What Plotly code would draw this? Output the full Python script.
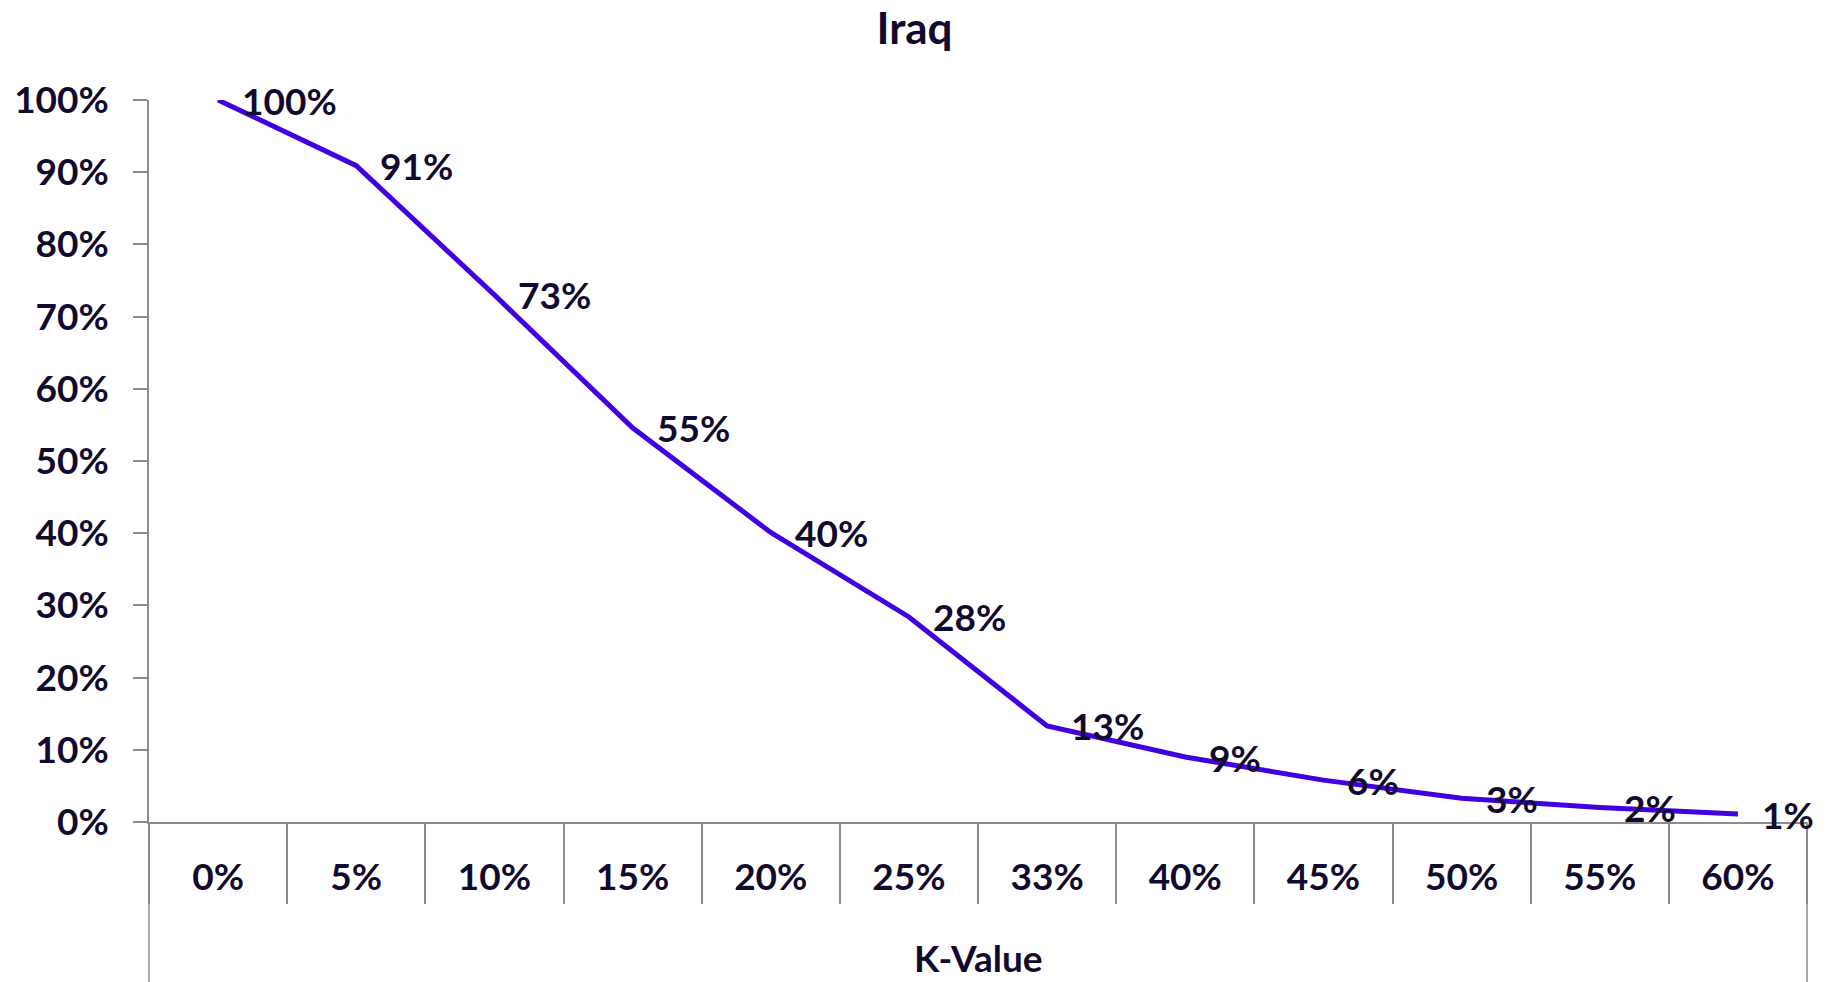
import plotly.graph_objects as go

# K-value categories and the share remaining at each one
k_values = ["0%", "5%", "10%", "15%", "20%", "25%", "33%", "40%", "45%", "50%", "55%", "60%"]
share = [1.000, 0.909, 0.730, 0.546, 0.401, 0.284, 0.133, 0.090, 0.058, 0.033, 0.020, 0.011]
y_ticks = [0.0, 0.1, 0.2, 0.3, 0.4, 0.5, 0.6, 0.7, 0.8, 0.9, 1.0]

W, H = 1829, 982
M_L, M_R, M_T, M_B = 149, 22, 100, 160
plot_h = H - M_T - M_B

FONT = "Lato"
TEXT = "#110a2e"
AXIS = "#8c8c8c"
LINE = "#4100e0"
FS = 37

fig = go.Figure()
fig.add_trace(go.Scatter(
    x=k_values, y=share, mode="lines",
    line=dict(color=LINE, width=5),
    hoverinfo="skip", showlegend=False,
))

# value labels to the right of each point
for k, v in zip(k_values, share):
    fig.add_annotation(
        x=k, y=v, text=f"<b>{v:.0%}</b>", showarrow=False,
        xanchor="left", yanchor="middle", xshift=22,
        font=dict(family=FONT, size=FS, color=TEXT),
    )

# axis title of the category axis
fig.add_annotation(
    x=0.5, xref="paper", y=-(957 - 822) / plot_h, yref="paper",
    text="<b>K-Value</b>", showarrow=False, xanchor="center", yanchor="middle",
    font=dict(family=FONT, size=FS, color=TEXT),
)

# outer frame lines of the category axis
for xp in (0, 1):
    fig.add_shape(type="line", xref="paper", yref="paper",
                  x0=xp, x1=xp, y0=0, y1=-M_B / plot_h,
                  line=dict(color=AXIS, width=1.5), layer="below")

fig.update_layout(
    width=W, height=H,
    margin=dict(l=M_L, r=M_R, t=M_T, b=M_B, pad=0),
    paper_bgcolor="white", plot_bgcolor="white",
    font=dict(family=FONT, size=FS, color=TEXT),
    title=dict(text="<b>Iraq</b>", x=0.5, xref="container", xanchor="center",
               y=1 - 29 / H, yref="container", yanchor="middle",
               font=dict(family=FONT, size=44, color=TEXT)),
    xaxis=dict(
        type="category", range=[-0.5, len(k_values) - 0.5], automargin=False,
        showline=True, linecolor=AXIS, linewidth=1.5,
        ticks="outside", tickson="boundaries", ticklen=80,
        tickcolor=AXIS, tickwidth=1.5, showgrid=False, zeroline=False,
        ticklabelstandoff=22,
        tickfont=dict(family=FONT, size=FS, color=TEXT, weight="bold"),
    ),
    yaxis=dict(
        range=[0, 1], tickvals=y_ticks, tickformat=".0%", automargin=False,
        showline=True, linecolor=AXIS, linewidth=1.5,
        ticks="outside", ticklen=14, tickcolor=AXIS, tickwidth=1.5,
        showgrid=False, zeroline=False, ticklabelstandoff=17,
        tickfont=dict(family=FONT, size=FS, color=TEXT, weight="bold"),
    ),
)

fig.write_html("out.html")
